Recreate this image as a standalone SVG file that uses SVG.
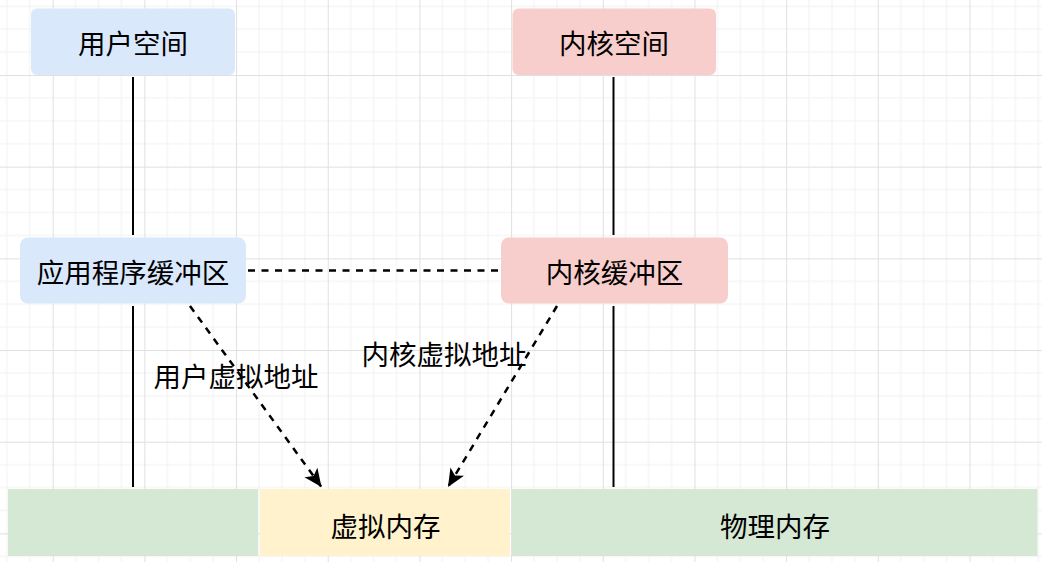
<svg xmlns="http://www.w3.org/2000/svg" width="1042" height="562" viewBox="0 0 1042 562">
  <style>
    .lbl { font-family: "Noto Sans CJK SC", "Noto Sans", sans-serif; font-size: 27.5px; fill: #000; text-anchor: middle; dominant-baseline: central; }
    .solid { stroke: #000; stroke-width: 2; fill: none; }
    .dash { stroke: #000; stroke-width: 2.5; fill: none; stroke-dasharray: 7 6.5; }
  </style>
  <defs>
    <pattern id="grid" patternUnits="userSpaceOnUse" x="-38.98" y="-16.68" width="91.68" height="91.68">
      <path d="M22.92 0V91.68M45.84 0V91.68M68.76 0V91.68M0 22.92H91.68M0 45.84H91.68M0 68.76H91.68" stroke="#f2f2f2" stroke-width="1" fill="none"/>
      <path d="M0.5 0V91.68M0 0.5H91.68" stroke="#e0e0e0" stroke-width="1" fill="none"/>
    </pattern>
    <marker id="arr" markerUnits="userSpaceOnUse" markerWidth="20" markerHeight="18" refX="18" refY="8" orient="auto">
      <path d="M0 0 L18 8 L0 16 L4.5 8 Z" fill="#000"/>
    </marker>
  </defs>
  <rect x="0" y="0" width="1042" height="562" fill="#fff"/>
  <rect x="0" y="0" width="1042" height="562" fill="url(#grid)"/>

  <g id="connectors">
    <line class="solid" x1="133" y1="77" x2="133" y2="235"/>
    <line class="solid" x1="133" y1="306" x2="133" y2="487"/>
    <line class="solid" x1="613.5" y1="77" x2="613.5" y2="235"/>
    <line class="solid" x1="613.5" y1="306" x2="613.5" y2="487"/>
    <line class="dash" x1="248" y1="270.5" x2="499" y2="270.5"/>
    <line class="dash" x1="190" y1="306" x2="321.5" y2="487" marker-end="url(#arr)"/>
    <line class="dash" x1="557" y1="306" x2="448" y2="487" marker-end="url(#arr)"/>
    <text class="lbl" x="236" y="374.5">用户虚拟地址</text>
    <text class="lbl" x="444" y="352.5">内核虚拟地址</text>
  </g>

  <g id="user-space">
    <rect x="31" y="8.5" width="204" height="66.5" rx="6" fill="#dae8fc"/>
    <text class="lbl" x="133" y="42">用户空间</text>
  </g>
  <g id="kernel-space">
    <rect x="512.5" y="8.5" width="203.5" height="66.5" rx="6" fill="#f8cecc"/>
    <text class="lbl" x="614" y="42">内核空间</text>
  </g>
  <g id="app-buffer">
    <rect x="20" y="237.5" width="226" height="66" rx="8" fill="#dae8fc"/>
    <text class="lbl" x="133" y="271">应用程序缓冲区</text>
  </g>
  <g id="kernel-buffer">
    <rect x="501" y="237.5" width="227" height="66" rx="8" fill="#f8cecc"/>
    <text class="lbl" x="614.5" y="271">内核缓冲区</text>
  </g>
  <g id="mem-left">
    <rect x="8" y="489" width="250" height="67" fill="#d5e8d4"/>
  </g>
  <g id="virtual-memory">
    <rect x="260" y="489" width="250" height="67" fill="#fff2cc"/>
    <text class="lbl" x="385.5" y="525">虚拟内存</text>
  </g>
  <g id="physical-memory">
    <rect x="512" y="489" width="525.5" height="67" fill="#d5e8d4"/>
    <text class="lbl" x="775" y="525">物理内存</text>
  </g>
</svg>
